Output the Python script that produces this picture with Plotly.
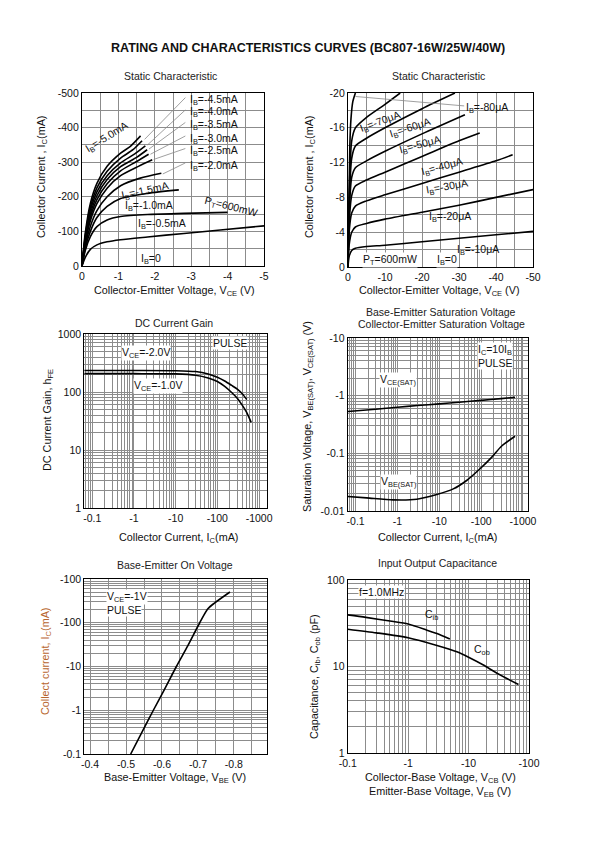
import math
import plotly.graph_objects as go

W, H = 595, 842
FONT = "Liberation Sans, Arial, sans-serif"
GRID = "#8c8c8c"

# ---------------- DATA ----------------
# Panel 1: Static Characteristic  (VCE [V], IC [mA])
p1_v_5_0 = [0, -0.09, -0.23, -0.41, -0.69, -1.06, -1.33, -1.61]
p1_i_5_0 = [0, -95, -181, -239, -288, -326, -346, -376]
p1_v_4_5 = [0, -0.09, -0.23, -0.41, -0.69, -1.06, -1.40, -1.65]
p1_i_4_5 = [0, -88, -170, -226, -274, -312, -336, -362]
p1_v_4_0 = [0, -0.09, -0.23, -0.41, -0.69, -1.06, -1.45, -1.74]
p1_i_4_0 = [0, -82, -160, -214, -261, -298, -324, -347]
p1_v_3_5 = [0, -0.09, -0.23, -0.41, -0.69, -1.06, -1.50, -1.79]
p1_i_3_5 = [0, -77, -150, -203, -250, -287, -314, -336]
p1_v_3_0 = [0, -0.09, -0.23, -0.41, -0.69, -1.06, -1.50, -1.83]
p1_i_3_0 = [0, -72, -141, -192, -238, -275, -302, -323]
p1_v_2_5 = [0, -0.09, -0.23, -0.41, -0.69, -1.06, -1.55, -1.93]
p1_i_2_5 = [0, -67, -131, -180, -225, -261, -288, -307]
p1_v_2_0 = [0, -0.09, -0.23, -0.41, -0.69, -1.06, -1.60, -2.18]
p1_i_2_0 = [0, -60, -115, -160, -200, -232, -254, -268]
p1_v_1_5 = [0, -0.09, -0.23, -0.41, -0.69, -1.06, -1.80, -2.66]
p1_i_1_5 = [0, -52, -100, -140, -172, -195, -210, -220]
p1_v_1_0 = [0, -0.09, -0.23, -0.41, -0.69, -1.06, -1.80, -2.80, -4.00]
p1_i_1_0 = [0, -45, -85, -114, -133, -143, -149, -152, -155]
p1_v_0_5 = [0, -0.09, -0.23, -0.41, -0.69, -1.06, -1.80, -2.80, -3.80, -5.00]
p1_i_0_5 = [0, -25, -48, -61, -70, -76, -84, -94, -104, -116]
p1_xticks = [0, -1, -2, -3, -4, -5]
p1_yticks = [0, -100, -200, -300, -400, -500]

# Panel 2: Static Characteristic  (VCE [V], IC [mA])
p2_v_80 = [0, -0.2, -0.35, -0.5, -0.8, -1.3, -2.0]
p2_i_80 = [0, -5, -10, -14, -17, -19, -20]
p2_v_70 = [0, -0.3, -1, -2, -5, -10, -14.1]
p2_i_70 = [0, -8, -14.5, -16.0, -17.2, -18.7, -20]
p2_v_60 = [0, -0.3, -1, -2, -5, -10, -20, -28.9]
p2_i_60 = [0, -7, -12.5, -13.9, -14.8, -16.0, -18.2, -20]
p2_v_50 = [0, -0.3, -1, -2, -5, -10, -20, -31.6]
p2_i_50 = [0, -6, -10.3, -11.4, -12.2, -13.3, -15.3, -17.5]
p2_v_40 = [0, -0.3, -1, -2, -5, -10, -20, -30, -35.6]
p2_i_40 = [0, -5, -8.2, -9.3, -10.0, -10.9, -12.7, -14.5, -15.4]
p2_v_30 = [0, -0.3, -1, -2, -5, -10, -20, -30, -40, -44.5]
p2_i_30 = [0, -4, -6.2, -7.0, -7.6, -8.3, -9.6, -10.9, -12.2, -12.9]
p2_v_20 = [0, -0.3, -1, -2, -5, -10, -20, -30, -40, -50]
p2_i_20 = [0, -2.5, -4.0, -4.6, -5.0, -5.5, -6.3, -7.1, -8.0, -8.9]
p2_v_10 = [0, -0.3, -1, -2, -5, -10, -20, -30, -40, -50]
p2_i_10 = [0, -1.2, -1.9, -2.15, -2.35, -2.5, -2.9, -3.3, -3.7, -4.1]
p2_xticks = [0, -10, -20, -30, -40, -50]
p2_yticks = [0, -4, -8, -12, -16, -20]

# Panel 3: DC Current Gain  (|IC| [mA], hFE)
p3_ic_2v = [0.064, 1, 10, 30, 60, 100, 150, 220, 300, 390, 508]
p3_hfe_2v = [235, 235, 233, 225, 205, 180, 155, 130, 112, 94, 74]
p3_ic_1v = [0.064, 1, 10, 30, 60, 100, 150, 220, 300, 390, 500, 646]
p3_hfe_1v = [207, 207, 205, 195, 175, 152, 125, 98, 78, 60, 45, 30]

# Panel 4: Saturation voltages (|IC| [mA], |V| [V])
p4_ic_upper = [0.065, 0.3, 1, 3, 10, 30, 100, 300, 646]
p4_v_upper = [0.53, 0.58, 0.63, 0.675, 0.72, 0.77, 0.83, 0.89, 0.935]
p4_ic_lower = [0.065, 0.183, 0.79, 2.9, 8.7, 21.6, 45, 94, 180, 310, 646]
p4_v_lower = [0.0178, 0.0169, 0.0156, 0.016, 0.0193, 0.0242, 0.0338, 0.054, 0.086, 0.134, 0.198]

# Panel 5: Base-Emitter On Voltage (VBE [V], |IC| [mA])
p5_vbe = [-0.513, -0.543, -0.576, -0.607, -0.640, -0.672, -0.705, -0.727, -0.746, -0.789]
p5_ic = [0.1, 0.3, 1, 3, 10, 30, 100, 206, 282, 505]

# Panel 6: Capacitance (|V| [V], C [pF])
p6_v_cib = [0.1, 0.2, 0.5, 1, 2, 3, 4.9]
p6_c_cib = [39.5, 37, 33.5, 31, 26.5, 24, 20.8]
p6_v_cob = [0.1, 0.3, 1, 3, 6.4, 10, 17.6, 30, 67]
p6_c_cob = [27, 24.5, 21.5, 17.5, 14.8, 12.8, 10.4, 8.3, 6.2]

log_ticks_ic = [0.1, 1, 10, 100, 1000]
log_text_ic = ["-0.1", "-1", "-10", "-100", "-1000"]

# ---------------- helpers ----------------
def dom_x(a, b):
    return [a / W, b / W]

def dom_y(top, bottom):
    return [1 - bottom / H, 1 - top / H]

tickfont = dict(family=FONT, size=10.5, color="#111")

def base_axis(anchor, dom):
    return dict(domain=dom, anchor=anchor, showgrid=True, gridcolor=GRID, gridwidth=0.8,
                showline=True, linecolor="black", linewidth=1.2, mirror=True,
                ticks="", zeroline=False, tickfont=tickfont, fixedrange=True,
                automargin=False)

def lin_axis(anchor, dom, rng, tvals, minor_dtick):
    d = base_axis(anchor, dom)
    d.update(range=rng, tickmode="array", tickvals=tvals,
             ticktext=[str(v) for v in tvals],
             minor=dict(tickmode="linear", tick0=0, dtick=minor_dtick, showgrid=True,
                        gridcolor=GRID, gridwidth=0.8, ticks=""))
    return d

def log_axis(anchor, dom, lo, hi, tvals, ttext):
    d = base_axis(anchor, dom)
    minors = [m * 10 ** e for e in range(math.floor(lo) - 1, math.ceil(hi) + 1) for m in range(2, 10)]
    d.update(type="log", range=[lo, hi], tickmode="array", tickvals=tvals, ticktext=ttext,
             minor=dict(tickmode="array", tickvals=minors, showgrid=True,
                        gridcolor=GRID, gridwidth=0.8, ticks=""))
    return d

fig = go.Figure()

def curve(x, y, ax):
    fig.add_trace(go.Scatter(x=x, y=y, xaxis="x" + ax, yaxis="y" + ax, mode="lines",
                             line=dict(color="black", width=1.6, shape="spline", smoothing=0.7),
                             showlegend=False, hoverinfo="skip"))

# Panel 1 curves
for v, i in [(p1_v_5_0, p1_i_5_0), (p1_v_4_5, p1_i_4_5), (p1_v_4_0, p1_i_4_0),
             (p1_v_3_5, p1_i_3_5), (p1_v_3_0, p1_i_3_0), (p1_v_2_5, p1_i_2_5),
             (p1_v_2_0, p1_i_2_0), (p1_v_1_5, p1_i_1_5), (p1_v_1_0, p1_i_1_0),
             (p1_v_0_5, p1_i_0_5)]:
    curve(v, i, "")
# Panel 2 curves
for v, i in [(p2_v_80, p2_i_80), (p2_v_70, p2_i_70), (p2_v_60, p2_i_60), (p2_v_50, p2_i_50),
             (p2_v_40, p2_i_40), (p2_v_30, p2_i_30), (p2_v_20, p2_i_20), (p2_v_10, p2_i_10)]:
    curve(v, i, "2")
curve(p3_ic_2v, p3_hfe_2v, "3")
curve(p3_ic_1v, p3_hfe_1v, "3")
curve(p4_ic_upper, p4_v_upper, "4")
curve(p4_ic_lower, p4_v_lower, "4")
curve(p5_vbe, p5_ic, "5")
curve(p6_v_cib, p6_c_cib, "6")
curve(p6_v_cob, p6_c_cob, "6")

# ---------------- axes ----------------
lay = {}
lay["xaxis"] = lin_axis("y", dom_x(82, 264), [0, -5], p1_xticks, 0.5)
lay["yaxis"] = lin_axis("x", dom_y(93, 266), [0, -500], p1_yticks, 50)
lay["xaxis2"] = lin_axis("y2", dom_x(348, 533), [0, -50], p2_xticks, 5)
lay["yaxis2"] = lin_axis("x2", dom_y(93, 267), [0, -20], p2_yticks, 2)
lay["xaxis3"] = log_axis("y3", dom_x(84.3, 267), -1.19, 3.19, log_ticks_ic, log_text_ic)
lay["yaxis3"] = log_axis("x3", dom_y(334, 508), 0, 3, [1, 10, 100, 1000], ["1", "10", "100", "1000"])
lay["xaxis4"] = log_axis("y4", dom_x(347.7, 528), -1.19, 3.12, log_ticks_ic, log_text_ic)
lay["yaxis4"] = log_axis("x4", dom_y(338, 511), -2, 1, [0.01, 0.1, 1, 10], ["-0.01", "-0.1", "-1", "-10"])
lay["xaxis5"] = lin_axis("y5", dom_x(84.3, 267), [-0.384, -0.892], [-0.4, -0.5, -0.6, -0.7, -0.8, -0.9], 0.05)
lay["yaxis5"] = log_axis("x5", dom_y(579, 754), -1, 3, [0.1, 1, 10, 100, 1000], ["-0.1", "-1", "-10", "-100", "-100"])
lay["xaxis6"] = log_axis("y6", dom_x(347.7, 529), -1, 2, [0.1, 1, 10, 100], ["-0.1", "-1", "-10", "-100"])
lay["yaxis6"] = log_axis("x6", dom_y(580, 753), 0, 2, [1, 10, 100], ["1", "10", "100"])

# ---------------- annotations ----------------
ann = []

def txt(text, x, y, xref="paper", yref="paper", size=10.5, angle=0, xanchor="center",
        bg=None, color="#111", align="center"):
    if xref == "paper":
        x = x / W
        y = 1 - y / H
    a = dict(text=text, x=x, y=y, xref=xref, yref=yref, showarrow=False, textangle=angle,
             xanchor=xanchor, yanchor="middle", align=align,
             font=dict(family=FONT, size=size, color=color))
    if bg:
        a.update(bgcolor=bg, borderpad=0)
    ann.append(a)

def leader(x0, y0, x1, y1, xr, yr):
    ann.append(dict(text="", x=x1, y=y1, ax=x0, ay=y0, xref=xr, yref=yr, axref=xr, ayref=yr,
                    showarrow=True, arrowhead=0, arrowwidth=0.8, arrowcolor="#888"))

L = math.log10

# Titles
txt("<b>RATING AND CHARACTERISTICS CURVES (BC807-16W/25W/40W)</b>", 308, 48, size=12.5)
txt("Static Characteristic", 170, 76, size=10.5, color="#222")
txt("Static Characteristic", 438, 76, size=10.5, color="#222")
txt("DC Current Gain", 174, 323, size=10.5, color="#222")
txt("Base-Emitter Saturation Voltage", 441, 311.5, size=10.5, color="#222")
txt("Collector-Emitter Saturation Voltage", 441, 324, size=10.5, color="#222")
txt("Base-Emitter On Voltage", 175, 565, size=10.5, color="#222")
txt("Input Output Capacitance", 437, 563, size=10.5, color="#222")

# Axis titles
txt("Collector-Emitter Voltage, V<sub>CE</sub> (V)", 174, 291, size=10.8)
txt("Collector-Emitter Voltage, V<sub>CE</sub> (V)", 439, 291, size=10.8)
txt("Collector Current , I<sub>C</sub>(mA)", 42, 177, angle=-90, size=10.8)
txt("Collector Current , I<sub>C</sub>(mA)", 310, 177, angle=-90, size=10.8)
txt("Collector Current, I<sub>C</sub>(mA)", 178, 538, size=10.8)
txt("Collector Current, I<sub>C</sub>(mA)", 437, 538, size=10.8)
txt("DC Current Gain, h<sub>FE</sub>", 48, 420, angle=-90, size=10.8)
txt("Saturation Voltage, V<sub>BE(SAT)</sub>, V<sub>CE(SAT)</sub> (V)", 308, 417, angle=-90, size=10.8)
txt("Base-Emitter Voltage, V<sub>BE</sub> (V)", 175, 778, size=10.8)
txt("Collect current, I<sub>C</sub>(mA)", 46, 662, angle=-90, color="#B8662E", size=10.8)
txt("Collector-Base Voltage, V<sub>CB</sub> (V)", 440, 778, size=10.8)
txt("Emitter-Base Voltage, V<sub>EB</sub> (V)", 440, 792, size=10.8)
txt("Capacitance, C<sub>ib</sub>, C<sub>ob</sub> (pF)", 315, 677, angle=-90, size=10.8)

# Panel 1 labels
p1_right_labels = ["-4.5", "-4.0", "-3.5", "-3.0", "-2.5", "-2.0"]
p1_right_y = [-481, -445, -408, -368, -331, -290]
p1_lead_to = [(-1.72, -366), (-1.80, -350), (-1.84, -338), (-1.88, -323), (-1.97, -308), (-2.22, -266)]
for lab, yy, (lx, ly) in zip(p1_right_labels, p1_right_y, p1_lead_to):
    txt("I<sub>B</sub>=" + lab + "mA", -2.92, yy, "x", "y", xanchor="left")
    leader(-2.88, yy - 10, lx, ly, "x", "y")
txt("I<sub>B</sub>=-5.0mA", -0.70, -372, "x", "y", angle=-32)
txt("I<sub>B</sub>=-1.5mA", -1.72, -218, "x", "y", angle=-12)
txt("I<sub>B</sub>=-1.0mA", -1.85, -173, "x", "y")
txt("P<sub>T</sub>=600mW", -4.08, -170, "x", "y", angle=14)
txt("I<sub>B</sub>=-0.5mA", -2.2, -122, "x", "y")
txt("I<sub>B</sub>=0", -1.9, -20, "x", "y")

# Panel 2 labels
txt("I<sub>B</sub>=-80μA", -37.6, -18.3, "x2", "y2")
leader(-31.8, -18.5, -2.0, -19.6, "x2", "y2")
txt("I<sub>B</sub>=-70μA", -8.7, -16.7, "x2", "y2", angle=-20)
txt("I<sub>B</sub>=-60μA", -16.8, -16.0, "x2", "y2", angle=-18)
txt("I<sub>B</sub>=-50μA", -19.5, -14.0, "x2", "y2", angle=-15)
txt("I<sub>B</sub>=-40μA", -25.3, -11.5, "x2", "y2", angle=-15)
txt("I<sub>B</sub>=-30μA", -26.7, -9.2, "x2", "y2", angle=-10)
txt("I<sub>B</sub>=-20μA", -27.6, -5.8, "x2", "y2")
txt("I<sub>B</sub>=-10μA", -35.2, -1.9, "x2", "y2")
txt("P<sub>T</sub>=600mW", -11.4, -0.8, "x2", "y2", bg="white")
txt("I<sub>B</sub>=0", -26.7, -0.8, "x2", "y2", bg="white")

# Panel 3 labels
txt("V<sub>CE</sub>=-2.0V", -0.306, L(470), "x3", "y3", xanchor="left", bg="white")
txt("V<sub>CE</sub>=-1.0V", -0.029, L(125), "x3", "y3", xanchor="left", bg="white")
txt("PULSE", 1.87, L(700), "x3", "y3", xanchor="left", bg="white")

# Panel 4 labels
txt("V<sub>CE(SAT)</sub>", L(1.04), 0.273, "x4", "y4", bg="white")
txt("V<sub>BE(SAT)</sub>", L(1.04), -1.5, "x4", "y4", bg="white")
txt("I<sub>C</sub>=10I<sub>B</sub><br>PULSE", 1.895, 0.686, "x4", "y4", xanchor="left",
    bg="white", align="left")

# Panel 5 labels
txt("V<sub>CE</sub>=-1V", -0.443, 2.58, "x5", "y5", xanchor="left", bg="white")
txt("PULSE", -0.443, 2.30, "x5", "y5", xanchor="left", bg="white")

# Panel 6 labels
txt("f=1.0MHz", -0.824, 1.865, "x6", "y6", xanchor="left", bg="white")
txt("C<sub>ib</sub>", 0.39, 1.595, "x6", "y6")
txt("C<sub>ob</sub>", 1.219, 1.19, "x6", "y6")

fig.update_layout(width=W, height=H, autosize=False, margin=dict(l=0, r=0, t=0, b=0, pad=0),
                  paper_bgcolor="white", plot_bgcolor="white", annotations=ann,
                  font=dict(family=FONT), **lay)

fig.write_html("out.html", config={"displayModeBar": False},
               post_script="document.body.style.margin='0px';document.body.style.overflow='hidden';")
